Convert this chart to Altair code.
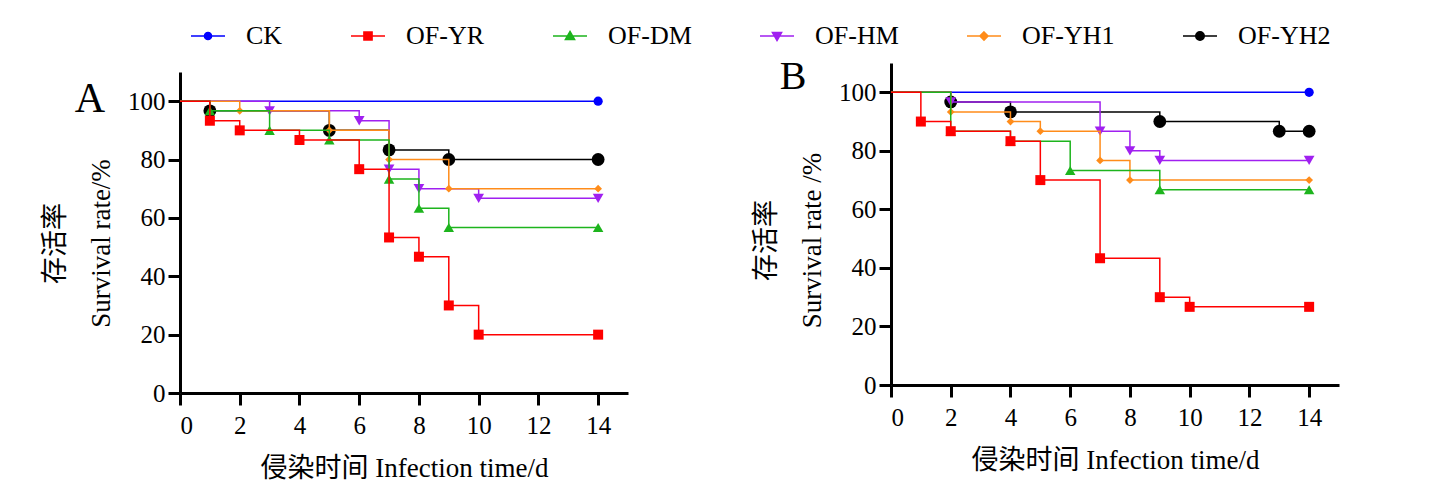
import altair as alt
import pandas as pd

# ---------------- data ----------------
series = ["CK", "OF-YR", "OF-DM", "OF-HM", "OF-YH1", "OF-YH2"]
colors = ["#0000FF", "#FF0000", "#1DB41D", "#A020F0", "#FF8C1A", "#000000"]

# Panel A: days and survival rate (%)
a_ck_t = [0, 14]
a_ck_s = [100, 100]
a_yr_t = [0, 1, 2, 4, 6, 7, 8, 9, 10, 14]
a_yr_s = [100, 93.3, 90, 86.7, 76.7, 53.3, 46.7, 30, 20, 20]
a_dm_t = [0, 1, 3, 5, 7, 8, 9, 14]
a_dm_s = [100, 96.7, 90, 86.7, 73.3, 63.3, 56.7, 56.7]
a_hm_t = [0, 3, 6, 7, 8, 10, 14]
a_hm_s = [100, 96.7, 93.3, 76.7, 70, 66.7, 66.7]
a_yh1_t = [0, 2, 5, 7, 9, 14]
a_yh1_s = [100, 96.7, 90, 80, 70, 70]
a_yh2_t = [0, 1, 5, 7, 9, 14]
a_yh2_s = [100, 96.7, 90, 83.3, 80, 80]

# Panel B
b_ck_t = [0, 14]
b_ck_s = [100, 100]
b_yr_t = [0, 1, 2, 4, 5, 7, 9, 10, 14]
b_yr_s = [100, 90, 86.7, 83.3, 70, 43.3, 30, 26.7, 26.7]
b_dm_t = [0, 2, 4, 6, 9, 14]
b_dm_s = [100, 86.7, 83.3, 73.3, 66.7, 66.7]
b_hm_t = [0, 2, 7, 8, 9, 14]
b_hm_s = [100, 96.7, 86.7, 80, 76.7, 76.7]
b_yh1_t = [0, 2, 4, 5, 7, 8, 14]
b_yh1_s = [100, 93.3, 90, 86.7, 76.7, 70, 70]
b_yh2_t = [0, 2, 4, 9, 13, 14]
b_yh2_s = [100, 96.7, 93.3, 90, 86.7, 86.7]

x_ticks = [0, 2, 4, 6, 8, 10, 12, 14]
y_ticks = [0, 20, 40, 60, 80, 100]

# ---------------- styles ----------------
color_of = dict(zip(series, colors))
shape_of = {"CK": "circle", "OF-YR": "square", "OF-DM": "triangle-up",
            "OF-HM": "triangle-down", "OF-YH1": "diamond", "OF-YH2": "circle"}
size_of = {"CK": 85, "OF-YR": 100, "OF-DM": 110, "OF-HM": 115,
           "OF-YH1": 60, "OF-YH2": 165}
draw_order = ["CK", "OF-YH2", "OF-HM", "OF-YH1", "OF-DM", "OF-YR"]

legend_paths = [
    "M-1,0H1M0.21,0A0.21,0.21 0 1,1 -0.21,0A0.21,0.21 0 1,1 0.21,0Z",
    "M-1,0H1M-0.24,-0.24H0.24V0.24H-0.24Z",
    "M-1,0H1M0,-0.27L0.27,0.2L-0.27,0.2Z",
    "M-1,0H1M0,0.27L0.27,-0.2L-0.27,-0.2Z",
    "M-1,0H1M0,-0.24L0.24,0L0,0.24L-0.24,0Z",
    "M-1,0H1M0.25,0A0.25,0.25 0 1,1 -0.25,0A0.25,0.25 0 1,1 0.25,0Z",
]

SERIF = "Liberation Serif"
MIXED = "Liberation Serif, Noto Sans CJK SC"


def frame(groups):
    rows = []
    for name, ts, ss in groups:
        for i, (t, s) in enumerate(zip(ts, ss)):
            rows.append({"series": name, "t": t, "s": s, "mark": i > 0})
    return pd.DataFrame(rows)


df_a = frame([("CK", a_ck_t, a_ck_s), ("OF-YR", a_yr_t, a_yr_s),
              ("OF-DM", a_dm_t, a_dm_s), ("OF-HM", a_hm_t, a_hm_s),
              ("OF-YH1", a_yh1_t, a_yh1_s), ("OF-YH2", a_yh2_t, a_yh2_s)])
df_b = frame([("CK", b_ck_t, b_ck_s), ("OF-YR", b_yr_t, b_yr_s),
              ("OF-DM", b_dm_t, b_dm_s), ("OF-HM", b_hm_t, b_hm_s),
              ("OF-YH1", b_yh1_t, b_yh1_s), ("OF-YH2", b_yh2_t, b_yh2_s)])

axis_style = dict(labelFont=SERIF, labelFontSize=25, labelColor="black",
                  titleFont=MIXED, titleFontSize=27, titleFontWeight="normal",
                  titleColor="black")


def panel(df, height, yrange, letter, lx, ly, lsize, ytitle, ytitle_y, with_legend):
    x = alt.X("t:Q", scale=alt.Scale(domain=[0, 15], nice=False, zero=False),
              axis=alt.Axis(values=x_ticks, title="侵染时间 Infection time/d",
                            labelAngle=0, labelPadding=8, titlePadding=17, **axis_style))
    y = alt.Y("s:Q", scale=alt.Scale(domain=[0, 110], nice=False, range=yrange),
              axis=alt.Axis(values=y_ticks, title=ytitle, labelPadding=3,
                            titlePadding=12, titleLineHeight=46, titleY=ytitle_y,
                            **axis_style))
    layers = []
    for name in draw_order:
        base = alt.Chart(df).transform_filter(alt.datum.series == name)
        layers.append(base.mark_line(interpolate="step-after", color=color_of[name],
                                     strokeWidth=1.5).encode(x=x, y=y))
        layers.append(base.transform_filter(alt.datum.mark).mark_point(
            filled=True, opacity=1, shape=shape_of[name], size=size_of[name],
            color=color_of[name]).encode(x=x, y=y))
    layers.append(alt.Chart(pd.DataFrame({"label": [letter]})).mark_text(
        font=SERIF, fontSize=lsize, color="black", align="center", baseline="middle"
    ).encode(text="label:N", x=alt.value(lx), y=alt.value(ly)))
    if with_legend:
        leg = alt.Legend(orient="none", legendX=10, legendY=-45, direction="horizontal",
                         columns=6, title=None, symbolSize=1156, symbolStrokeWidth=1.5,
                         labelFont=SERIF, labelFontSize=26, labelColor="black",
                         labelOffset=20, columnPadding=65, padding=0, symbolOpacity=1)
        layers.append(alt.Chart(pd.DataFrame({"series": series})).transform_filter("false")
                      .mark_point(filled=True, strokeWidth=1.5).encode(
            x=alt.value(0), y=alt.value(0),
            color=alt.Color("series:N", scale=alt.Scale(domain=series, range=colors), legend=leg),
            stroke=alt.Stroke("series:N", scale=alt.Scale(domain=series, range=colors), legend=leg),
            shape=alt.Shape("series:N", scale=alt.Scale(domain=series, range=legend_paths), legend=leg),
        ))
    return alt.layer(*layers).properties(width=448, height=height)


chart_a = panel(df_a, 330, [330, 9], "A", -90, 36, 42, ["存活率", "Survival rate/%"], 180, True)
chart_b = panel(df_b, 322, [322, 0], "B", -98, 14, 40, ["存活率", "Survival rate /%"], 177, False)

chart = alt.hconcat(chart_a, chart_b, spacing=263, bounds="flush").properties(
    padding={"left": 33, "top": 10, "right": 5, "bottom": 2}
).configure(font=SERIF).configure_view(stroke=None).configure_axis(
    grid=False, domainColor="black", domainWidth=3, tickColor="black", tickWidth=3,
    tickSize=12, labelFont=SERIF, labelFontSize=25, labelColor="black",
    titleFont=MIXED, titleFontSize=27, titleFontWeight="normal", titleColor="black",
).configure_legend(labelFont=SERIF, labelFontSize=26, labelColor="black")

chart.save("out.html", embed_options={"renderer": "svg", "actions": False})
